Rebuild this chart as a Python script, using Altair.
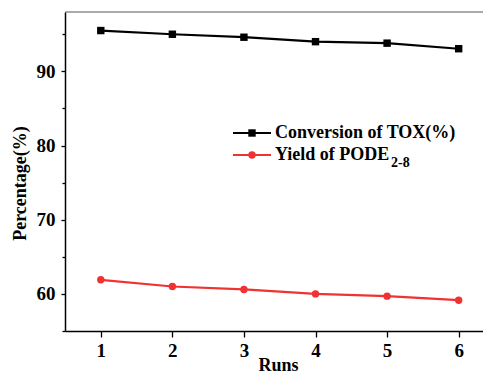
import altair as alt
import pandas as pd

runs = [1, 2, 3, 4, 5, 6]
conversion_tox = [95.5, 95.0, 94.6, 94.0, 93.8, 93.05]
yield_pode = [61.9, 61.0, 60.6, 60.0, 59.7, 59.15]
series_names = ["Conversion of TOX(%)", "Yield of PODE2-8"]
colors = ["#000000", "#f03232"]
x_ticks = [1, 1.5, 2, 2.5, 3, 3.5, 4, 4.5, 5, 5.5, 6]
y_ticks = [55, 60, 65, 70, 75, 80, 85, 90, 95]

rows = []
for r, a, b in zip(runs, conversion_tox, yield_pode):
    rows.append({"run": r, "value": a, "series": series_names[0]})
    rows.append({"run": r, "value": b, "series": series_names[1]})
df = pd.DataFrame(rows)

FONT = "Liberation Serif"
W, H = 418, 319

x = alt.X("run:Q", scale=alt.Scale(domain=[0.5, 6.34], nice=False, zero=False),
          axis=alt.Axis(values=x_ticks, format="d", grid=False, title="Runs",
                        labelExpr="datum.value % 1 == 0 ? datum.label : ''",
                        tickSize={"condition": {"test": "datum.value % 1 == 0", "value": 6}, "value": 3},
                        tickColor="black", tickWidth=1.3, domainColor="black", domainWidth=1.5,
                        labelFont=FONT, labelFontSize=19, labelFontWeight="bold", labelColor="black",
                        labelPadding=4, labelFlush=False,
                        titleFont=FONT, titleFontSize=18, titleFontWeight="bold", titleColor="black",
                        titleX=213, titleY=34, titleBaseline="middle"))
y = alt.Y("value:Q", scale=alt.Scale(domain=[55, 98], nice=False, zero=False),
          axis=alt.Axis(values=y_ticks, format="d", grid=False, title="Percentage(%)",
                        labelExpr="datum.value % 10 == 0 ? datum.label : ''",
                        tickSize={"condition": {"test": "datum.value % 10 == 0", "value": 4}, "value": 3},
                        tickColor="black", tickWidth=1.3, domainColor="black", domainWidth=1.5,
                        labelFont=FONT, labelFontSize=19, labelFontWeight="bold", labelColor="black",
                        labelPadding=6,
                        titleFont=FONT, titleFontSize=18, titleFontWeight="bold", titleColor="black",
                        titleX=-45, titleY=171, titleAngle=-90, titleBaseline="middle"))
color = alt.Color("series:N", scale=alt.Scale(domain=series_names, range=colors), legend=None)

lines = alt.Chart(df).mark_line(strokeWidth=2.2).encode(x=x, y=y, color=color)
points = alt.Chart(df).mark_point(filled=True, opacity=1, size=55).encode(
    x=x, y=y, color=color,
    shape=alt.Shape("series:N", scale=alt.Scale(domain=series_names, range=["square", "circle"]), legend=None))

one = pd.DataFrame({"k": [0]})
top_border = alt.Chart(one).mark_rule(color="#555555", strokeWidth=1).encode(
    x=alt.value(0), x2=alt.value(W), y=alt.value(0))

leg = []
for i, (c, shp) in enumerate(zip(colors, ["square", "circle"])):
    yy = 121 + 22 * i
    leg.append(alt.Chart(one).mark_rule(color=c, strokeWidth=2.2).encode(
        x=alt.value(168), x2=alt.value(206), y=alt.value(yy)))
    leg.append(alt.Chart(one).mark_point(filled=True, opacity=1, size=55, color=c, shape=shp).encode(
        x=alt.value(187), y=alt.value(yy)))
leg.append(alt.Chart(one).mark_text(text="Conversion of TOX(%)", font=FONT, fontSize=18, fontWeight="bold",
                                     align="left", baseline="middle", color="black").encode(
    x=alt.value(210), y=alt.value(121)))
leg.append(alt.Chart(one).mark_text(text="Yield of PODE", font=FONT, fontSize=18, fontWeight="bold",
                                     align="left", baseline="middle", color="black").encode(
    x=alt.value(210), y=alt.value(143)))
leg.append(alt.Chart(one).mark_text(text="2-8", font=FONT, fontSize=14, fontWeight="bold",
                                     align="left", baseline="middle", color="black").encode(
    x=alt.value(326), y=alt.value(151)))

chart = alt.layer(lines, points, top_border, *leg).properties(
    width=W, height=H,
    autosize=alt.AutoSizeParams(type="none"),
    padding={"left": 65, "top": 12, "right": 0, "bottom": 42},
    background="white",
).configure_view(stroke=None)

chart.save("out.html", embed_options={"renderer": "svg", "actions": False})
